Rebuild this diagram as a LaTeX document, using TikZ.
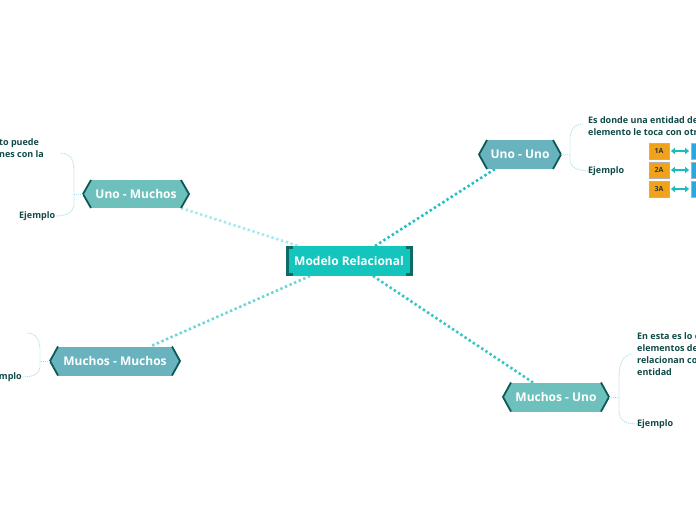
\documentclass[tikz,border=0pt]{standalone}
\usepackage{fontspec}
\setmainfont{Open Sans}
\usetikzlibrary{calc,arrows.meta}
\definecolor{central}{HTML}{14C5BE}
\definecolor{bracketc}{HTML}{0D6B66}
\definecolor{hexedgec}{HTML}{0E5957}
\definecolor{hexA}{HTML}{6DC0BB}
\definecolor{hexB}{HTML}{69B3BF}
\definecolor{txt}{HTML}{0F4A48}
\definecolor{lnA}{HTML}{A6E9EF}
\definecolor{lnB}{HTML}{22BFC3}
\definecolor{lnC}{HTML}{6CD7DB}
\definecolor{lnD}{HTML}{36C6C6}
\definecolor{bracec}{HTML}{A9E3E8}
\definecolor{orangec}{HTML}{F0A21B}
\definecolor{bluec}{HTML}{2BA7DF}
\definecolor{arrowc}{HTML}{19BDBE}
\pgfdeclarelayer{bg}
\pgfsetlayers{bg,main}
\tikzset{
  hexbody/.style={rectangle, inner sep=0pt, outer sep=0pt, minimum height=29pt,
    text=white, font=\fontsize{12}{14}\selectfont\bfseries},
  hexedge/.style={draw=hexedgec, line width=1.8pt, line join=miter},
  bracket/.style={draw=bracketc, line width=3pt},
  conn/.style={line width=2.6pt, dash pattern=on 2.4pt off 2.6pt},
  brace/.style={draw=bracec, line width=0.8pt, dash pattern=on 1.2pt off 0.8pt},
  subtext/.style={inner sep=0pt, text=txt, font=\fontsize{9}{12}\selectfont\bfseries, align=left},
  exbox/.style={rectangle, fill=orangec, draw=black!30, line width=0.8pt, minimum width=20pt,
    minimum height=16pt, inner sep=0pt, text=black!80, font=\fontsize{7}{8}\selectfont\bfseries},
  bluebox/.style={rectangle, fill=bluec, draw=black!30, line width=0.8pt, minimum width=20pt,
    minimum height=16pt, inner sep=0pt},
  exarrow/.style={draw=arrowc, line width=1.4pt, {Triangle[length=4pt,width=6pt]}-{Triangle[length=4pt,width=6pt]},
    shorten <=1.5pt, shorten >=1.5pt},
}
\newcommand\hexends[2]{%
  \fill[#2] (#1.north west) -- ($(#1.west)+(-8,0)$) -- (#1.south west) -- cycle;
  \fill[#2] (#1.north east) -- ($(#1.east)+(8,0)$) -- (#1.south east) -- cycle;
  \draw[hexedge] (#1.north west) -- ($(#1.west)+(-8,0)$) -- (#1.south west);
  \draw[hexedge] (#1.north east) -- ($(#1.east)+(8,0)$) -- (#1.south east);}
\begin{document}
\begin{tikzpicture}[x=1pt,y=-1pt]
\useasboundingbox (0,0) rectangle (696,520);
\begin{pgfonlayer}{bg}
\fill[white] (0,0) rectangle (696,520);
\end{pgfonlayer}

% central node
\node[rectangle, fill=central, minimum width=127pt, minimum height=30pt, inner sep=0pt, outer sep=0pt,
  text=white, font=\fontsize{12}{14}\selectfont\bfseries] (c) at (349,261) {Modelo Relacional};
\draw[bracket] ($(c.north west)+(7,1.5)$) -- ($(c.north west)+(1.5,1.5)$) -- ($(c.south west)+(1.5,-1.5)$) -- ($(c.south west)+(7,-1.5)$);
\draw[bracket] ($(c.north east)+(-7,1.5)$) -- ($(c.north east)+(-1.5,1.5)$) -- ($(c.south east)+(-1.5,-1.5)$) -- ($(c.south east)+(-7,-1.5)$);

% branch nodes
\node[hexbody, fill=hexA, minimum width=90pt, minimum height=28pt] (um) at (136,194) {Uno - Muchos};
\hexends{um}{hexA}
\node[hexbody, fill=hexB, minimum width=66pt] (uu) at (520,154.5) {Uno - Uno};
\hexends{uu}{hexB}
\node[hexbody, fill=hexB, minimum width=114pt] (mm) at (115,361) {Muchos - Muchos};
\hexends{mm}{hexB}
\node[hexbody, fill=hexA, minimum width=90pt] (mu) at (556,397) {Muchos - Uno};
\hexends{mu}{hexA}

% main connectors
\begin{pgfonlayer}{bg}
\draw[conn, draw=lnA] (um.south east) -- ($(c.north west)+(13,0)$);
\draw[conn, draw=lnB] ($(c.north)+(26,0)$) -- ($(uu.south west)+(8,0)$);
\draw[conn, draw=lnC] ($(c.south)+(-39,0)$) -- ($(mm.north)+(35,0)$);
\draw[conn, draw=lnD] ($(c.south)+(24,0)$) -- ($(mu.north west)+(22,0)$);
\end{pgfonlayer}

% Uno - Muchos details
\node[subtext, anchor=west] (umt) at (-1,148) {to puede\\nes con la};
\node[subtext, anchor=west] (ume) at (19,216) {Ejemplo};
\coordinate (umj) at (74,194);
\draw[brace] ($(um.west)+(-8,0)$) -- (umj);
\draw[brace] (60,153) .. controls (71,153) and (74,160) .. (74,172) -- (74,203) .. controls (74,211) and (69,216) .. (ume.east);

% Uno - Uno details
\node[subtext, anchor=west] (uut) at (588,126) {Es donde una entidad de\\elemento le toca con otro};
\node[subtext, anchor=west] (uue) at (588,171) {Ejemplo};
\coordinate (uuj) at (570,155);
\draw[brace] ($(uu.east)+(8,0)$) -- (uuj);
\draw[brace] (583,124) .. controls (573,124) and (570,131) .. (570,141) -- (570,160) .. controls (570,166) and (574,170) .. (uue.west);

% Muchos - Muchos details
\node[subtext, anchor=east] (mme) at (22,377) {Ejemplo};
\coordinate (mmj) at (40,361);
\draw[brace] ($(mm.west)+(-8,0)$) -- (mmj);
\draw[brace] (27,333) .. controls (36,333) and (40,340) .. (40,350) -- (40,367) .. controls (40,373) and (35,377) .. (mme.east);

% Muchos - Uno details
\node[subtext, anchor=north west] (mut) at (637,332) {En esta es lo c\\elementos de\\relacionan co\\entidad};
\node[subtext, anchor=west] (mue) at (637,424) {Ejemplo};
\coordinate (muj) at (619,397);
\draw[brace] ($(mu.east)+(8,0)$) -- (muj);
\draw[brace] (631,354) .. controls (622,356) and (619,365) .. (619,378) -- (619,410) .. controls (619,420) and (625,424) .. (mue.west);

% example boxes
\node[exbox] (a1) at (659,151) {1A};
\node[exbox] (a2) at (659,170) {2A};
\node[exbox] (a3) at (659,189) {3A};
\node[bluebox] (b1) at (701,151) {};
\node[bluebox] (b2) at (701,170) {};
\node[bluebox] (b3) at (701,189) {};
\draw[exarrow] (a1) -- (b1);
\draw[exarrow] (a2) -- (b2);
\draw[exarrow] (a3) -- (b3);
\end{tikzpicture}
\end{document}
